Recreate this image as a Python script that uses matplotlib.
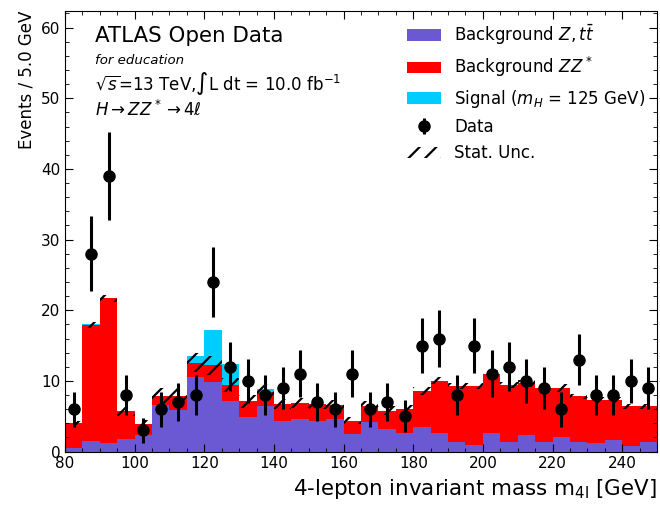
"""ATLAS Open Data H->ZZ*->4l invariant mass plot."""

import matplotlib
matplotlib.use('Agg')
import matplotlib.pyplot as plt
import numpy as np
from matplotlib.ticker import AutoMinorLocator

# Binning: 80-250 GeV in 5 GeV steps
bin_edges = np.arange(80, 255, 5)
bin_centres = bin_edges[:-1] + 2.5

# Data counts per bin
data_x = [6, 28, 39, 8, 3, 6, 7, 8, 24, 12, 10, 8, 9, 11, 7, 6, 11,
          6, 7, 5, 15, 16, 8, 15, 11, 12, 10, 9, 6, 13, 8, 8, 10, 9]

# Background Z, ttbar
bkg_z_tt = [0.5, 1.5, 1.2, 1.8, 2.4, 6.6, 5.9, 10.5, 9.8, 7.2, 4.9, 6.4,
            4.4, 4.6, 4.4, 4.6, 2.5, 4.2, 3.2, 2.6, 3.5, 2.7, 1.4, 0.95,
            2.7, 1.3, 2.3, 1.4, 2.1, 1.4, 1.2, 1.65, 0.8, 1.4]

# Background total (Z, ttbar + ZZ*)
bkg_total = [4.0, 17.9, 21.7, 5.7, 3.9, 7.9, 7.9, 12.6, 12.2, 9.4, 7.1, 8.5,
             6.8, 6.9, 6.8, 6.6, 4.4, 6.5, 5.8, 6.0, 8.6, 10.0, 9.3, 9.3,
             11.0, 9.4, 9.7, 9.0, 9.0, 7.8, 7.3, 7.3, 6.4, 6.4]

# Signal (m_H = 125 GeV)
signal = [0, 0.2, 0, 0, 0, 0, 0, 1.0, 5.0, 3.0, 0.1, 0.3,
          0, 0, 0, 0, 0, 0, 0, 0, 0, 0, 0, 0,
          0, 0, 0, 0, 0, 0, 0, 0, 0, 0]

# Statistical uncertainty on background
bkg_err = [0.3, 0.4, 0.5, 0.6, 0.6, 1.1, 1.1, 1.3, 1.3, 1.0, 0.9, 1.0,
           0.7, 0.7, 0.7, 0.7, 0.5, 0.7, 0.6, 0.6, 0.6, 0.5, 0.4, 0.4,
           0.5, 0.4, 0.5, 0.4, 0.5, 0.4, 0.4, 0.4, 0.4, 0.4]

data_x = np.array(data_x, dtype=float)
bkg_z_tt = np.array(bkg_z_tt)
bkg_total = np.array(bkg_total)
bkg_zz = bkg_total - bkg_z_tt
signal = np.array(signal)
bkg_err = np.array(bkg_err)

plt.rcParams['hatch.linewidth'] = 1.6

fig = plt.figure(figsize=(6.6, 5.08), dpi=100)
ax = fig.add_axes([0.0985, 0.111, 0.897, 0.868])

# Stacked backgrounds
ax.hist([bin_centres, bin_centres], bins=bin_edges,
        weights=[bkg_z_tt, bkg_zz], stacked=True,
        color=['#6b59d3', '#ff0000'],
        label=[r'Background $Z,t\bar{t}$', r'Background $ZZ^*$'])

# Signal on top
ax.hist(bin_centres, bins=bin_edges, weights=signal, bottom=bkg_total,
        color='#00cdff', label=r'Signal ($m_H$ = 125 GeV)')

# Data
ax.errorbar(bin_centres, data_x, yerr=np.sqrt(data_x), fmt='ko',
            markersize=8, elinewidth=2.2, label='Data')

# Stat. unc. band
ax.bar(bin_centres, 2 * bkg_err, bottom=bkg_total - bkg_err, width=5,
       facecolor='none', edgecolor='black', linewidth=0, hatch='//',
       label='Stat. Unc.')

ax.set_xlim(80, 250)
ax.set_ylim(0, 62.4)
ax.xaxis.set_minor_locator(AutoMinorLocator())
ax.yaxis.set_minor_locator(AutoMinorLocator())
ax.tick_params(which='both', direction='in', top=True, right=True,
               labelsize=11)
ax.tick_params(which='major', length=6)
ax.tick_params(which='minor', length=3)

ax.set_xlabel(r'4-lepton invariant mass $\mathrm{m_{4l}}$ [GeV]',
              fontsize=15.4, x=1, ha='right')
ax.set_ylabel('Events / 5.0 GeV', fontsize=12, y=1, ha='right')

ax.text(0.05, 0.93, 'ATLAS Open Data', transform=ax.transAxes, fontsize=15.4)
ax.text(0.05, 0.88, 'for education', transform=ax.transAxes,
        style='italic', fontsize=9.6)
ax.text(0.05, 0.82, r'$\sqrt{s}$=13 TeV,$\int$L dt = 10.0 fb$^{-1}$',
        transform=ax.transAxes, fontsize=12)
ax.text(0.05, 0.76, r'$H \rightarrow ZZ^* \rightarrow 4\ell$',
        transform=ax.transAxes, fontsize=12)

handles, labels = ax.get_legend_handles_labels()
order = ['Background $Z,t\\bar{t}$', 'Background $ZZ^*$',
         'Signal ($m_H$ = 125 GeV)', 'Data', 'Stat. Unc.']
hmap = dict(zip(labels, handles))
ax.legend([hmap[k] for k in order], order, frameon=False, fontsize=12,
          loc='upper right', borderaxespad=0.3)

plt.savefig('out.png', dpi=100)
plt.close()
